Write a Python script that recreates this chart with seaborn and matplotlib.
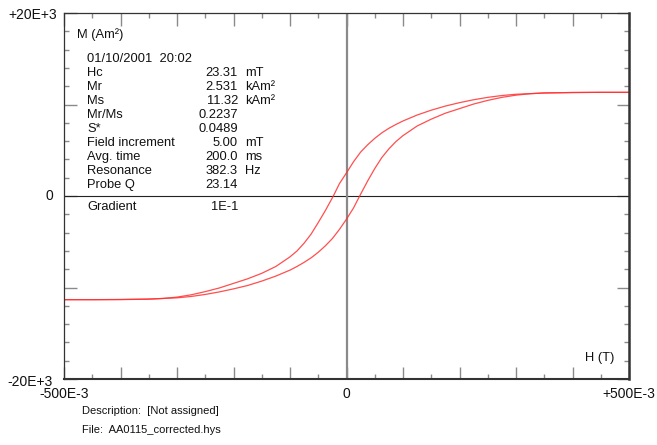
import matplotlib
matplotlib.use("Agg")
import matplotlib.pyplot as plt
import seaborn as sns
import pandas as pd

# Hysteresis loop: applied field H (T) and moment M (Am²)
# Descending branch (from +H_max to -H_max)
h_upper = [0.500, 0.450, 0.400, 0.350, 0.300, 0.275, 0.250, 0.225, 0.200, 0.175,
           0.150, 0.125, 0.100, 0.0875, 0.075, 0.0625, 0.050, 0.0375, 0.025,
           0.0125, 0.000, -0.0125, -0.0233, -0.0375, -0.050, -0.0625, -0.075,
           -0.0875, -0.100, -0.125, -0.150, -0.175, -0.200, -0.225, -0.250,
           -0.275, -0.300, -0.325, -0.350, -0.400, -0.450, -0.500]
m_upper = [11330, 11330, 11310, 11250, 11120, 10980, 10780, 10520, 10200, 9830,
           9380, 8850, 8200, 7820, 7400, 6900, 6300, 5600, 4800,
           3750, 2531, 1350, 0, -1600, -2900, -4150, -5150,
           -6000, -6650, -7700, -8450, -9050, -9550, -10050, -10450,
           -10800, -11050, -11200, -11280, -11320, -11330, -11330]

# Ascending branch (from -H_max to +H_max)
h_lower = [-0.500, -0.450, -0.400, -0.350, -0.300, -0.275, -0.250, -0.225, -0.200,
           -0.175, -0.150, -0.125, -0.100, -0.0875, -0.075, -0.0625, -0.050,
           -0.0375, -0.025, -0.0125, 0.000, 0.0125, 0.0233, 0.0375, 0.050, 0.0625,
           0.075, 0.0875, 0.100, 0.125, 0.150, 0.175, 0.200, 0.225, 0.250, 0.275,
           0.300, 0.325, 0.350, 0.400, 0.450, 0.500]
m_lower = [-11330, -11330, -11310, -11260, -11130, -10980, -10760, -10480, -10150,
           -9780, -9300, -8750, -8100, -7700, -7250, -6750, -6150,
           -5450, -4650, -3650, -2531, -1300, 0, 1650, 3000, 4200,
           5150, 5950, 6600, 7650, 8400, 9050, 9550, 10050, 10450, 10780,
           11020, 11180, 11270, 11310, 11330, 11330]

# Measurement summary
info_labels = ["Hc", "Mr", "Ms", "Mr/Ms", "S*", "Field increment", "Avg. time",
               "Resonance", "Probe Q"]
info_values = ["23.31", "2.531", "11.32", "0.2237", "0.0489", "5.00", "200.0",
               "382.3", "23.14"]
info_units = ["mT", "kAm²", "kAm²", "", "", "mT", "ms", "Hz", ""]
timestamp = "01/10/2001  20:02"
gradient = "1E-1"

x_ticklabels = ["-500E-3", "0", "+500E-3"]
y_ticklabels = ["-20E+3", "0", "+20E+3"]

sns.set_style("white")
plt.rcParams["font.family"] = ["Liberation Sans", "DejaVu Sans"]

W, H = 657, 445
fig = plt.figure(figsize=(W / 100, H / 100), dpi=100)
ax = fig.add_axes([64 / W, 1 - 379 / H, 565 / W, 366 / H])

df_u = pd.DataFrame({"H": h_upper, "M": m_upper})
df_l = pd.DataFrame({"H": h_lower, "M": m_lower})
line_kw = dict(color="#ff3030", linewidth=0.9, alpha=0.85, sort=False,
               estimator=None, legend=False)
sns.lineplot(data=df_u, x="H", y="M", ax=ax, **line_kw)
sns.lineplot(data=df_l, x="H", y="M", ax=ax, **line_kw)

ax.set_xlim(-0.5, 0.5)
ax.set_ylim(-20000, 20000)
ax.set_xlabel("")
ax.set_ylabel("")

# Cross-hair through the origin
ax.axhline(0, color="#222222", linewidth=0.8, zorder=1)
ax.axvline(0, color="#8a8a8a", linewidth=1.6, zorder=1)

# Frame: light top/left, heavier bottom/right
for side, lw in [("left", 0.9), ("top", 0.9), ("right", 1.8), ("bottom", 1.5)]:
    ax.spines[side].set_visible(True)
    ax.spines[side].set_color("#333333")
    ax.spines[side].set_linewidth(lw)

# Inward ticks on all four sides, labels only at the ends and zero
major_x = [-0.5 + 0.1 * i for i in range(11)]
minor_x = [-0.45 + 0.1 * i for i in range(10)]
major_y = [-20000, -10000, 0, 10000, 20000]
minor_y = [v for v in range(-18000, 20000, 2000) if v % 10000 != 0]
ax.set_xticks(major_x)
ax.set_xticks(minor_x, minor=True)
ax.set_yticks(major_y)
ax.set_yticks(minor_y, minor=True)
ax.set_xticklabels([])
ax.set_yticklabels([])
ax.tick_params(which="both", direction="in", top=True, right=True,
               bottom=True, left=True, color="#8a8a8a", width=1.0)
ax.tick_params(which="major", length=9)
ax.tick_params(which="minor", length=3.5)

txt = dict(fontsize=9.3, color="#111111")
tick_txt = dict(fontsize=10, color="#111111")
for xv, lab in zip([-0.5, 0, 0.5], x_ticklabels):
    ax.annotate(lab, xy=(xv, 0), xycoords=("data", "axes fraction"),
                xytext=(0, -15), textcoords="offset pixels",
                ha="center", va="center", **tick_txt)
for yv, lab, dx, dy in zip([-20000, 0, 20000], y_ticklabels,
                           [-11, -11, -7], [-3, 0, -2]):
    ax.annotate(lab, xy=(0, yv), xycoords=("axes fraction", "data"),
                xytext=(dx, dy), textcoords="offset pixels",
                ha="right", va="center", **tick_txt)

# Axis captions inside the frame
fig.text(77 / W, 1 - 35 / H, "M (Am²)", ha="left", va="center", **txt)
fig.text(585 / W, 1 - 358 / H, "H (T)", ha="left", va="center", **txt)

# Parameter block
x_lab, x_val, x_unit = 87 / W, 238 / W, 245 / W
rows_y = [73, 87, 101, 115, 129, 143, 157, 171, 185]
fig.text(x_lab, 1 - 59 / H, timestamp, ha="left", va="center", **txt)
for y, lab, val, unit in zip(rows_y, info_labels, info_values, info_units):
    fig.text(x_lab, 1 - y / H, lab, ha="left", va="center", **txt)
    fig.text(x_val, 1 - y / H, val, ha="right", va="center", **txt)
    if unit:
        fig.text(x_unit, 1 - y / H, unit, ha="left", va="center", **txt)
fig.text(x_lab, 1 - 207 / H, "Gradient", ha="left", va="center", **txt)
fig.text(x_val, 1 - 207 / H, gradient, ha="right", va="center", **txt)

# Footer
foot = dict(fontsize=8.0, color="#111111")
fig.text(82 / W, 1 - 411 / H, "Description:  [Not assigned]", ha="left",
         va="center", **foot)
fig.text(82 / W, 1 - 430 / H, "File:  AA0115_corrected.hys", ha="left",
         va="center", **foot)

fig.savefig("out.png", dpi=100, facecolor="white")
